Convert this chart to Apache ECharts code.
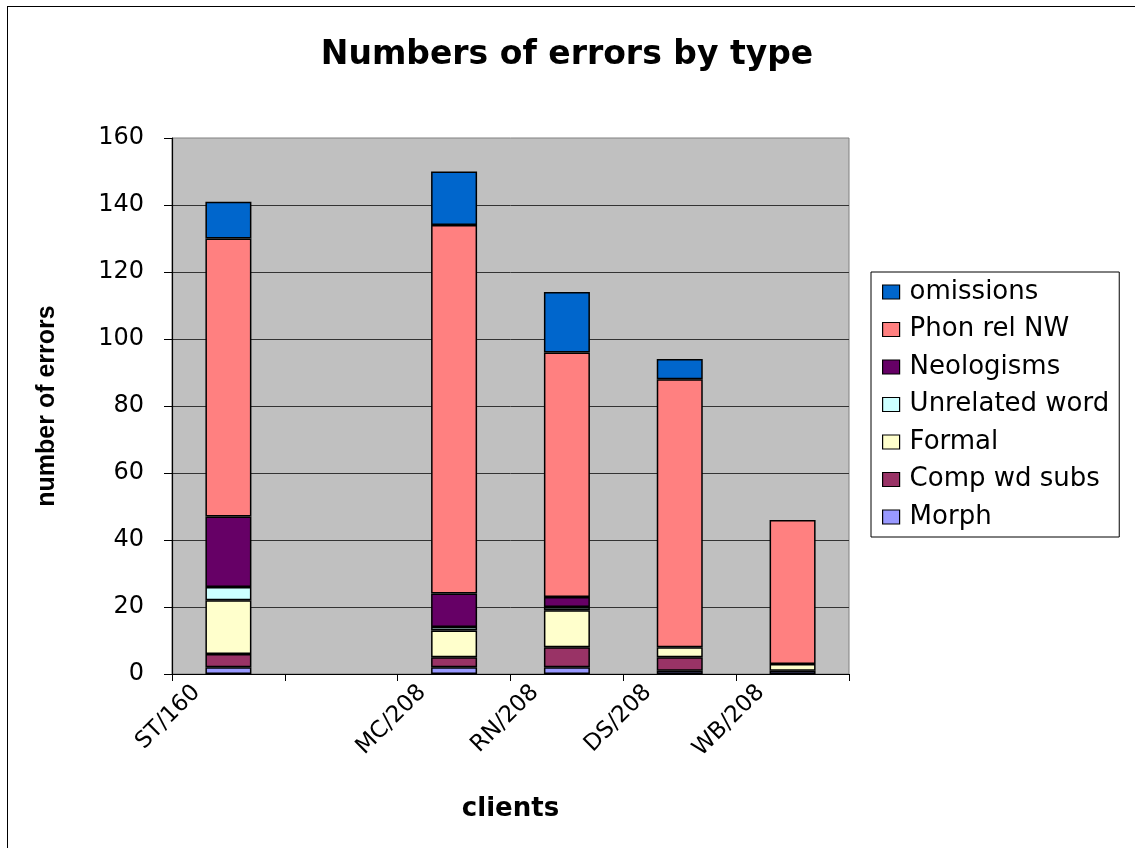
<!DOCTYPE html>
<html>
<head>
<meta charset="utf-8">
<script src="https://cdn.jsdelivr.net/npm/echarts@6/dist/echarts.min.js"></script>
<style>
  html, body { margin: 0; padding: 0; background: #fff; }
  #frame { position: absolute; left: 7px; top: 6px; width: 1128px; height: 842px; border-left: 1.5px solid #000; border-top: 1.5px solid #000; box-sizing: border-box; }
  #chart { position: absolute; left: 0; top: 0; width: 1135px; height: 848px; }
</style>
</head>
<body>
<div id="frame"></div>
<div id="chart"></div>
<script>
const categories = ['ST/160', '', 'MC/208', 'RN/208', 'DS/208', 'WB/208'];
const seriesNames = ['Morph', 'Comp wd subs', 'Formal', 'Unrelated word', 'Neologisms', 'Phon rel NW', 'omissions'];
const morph        = [2, null, 2, 2, 1, 1];
const compWdSubs   = [4, null, 3, 6, 4, 0];
const formal       = [16, null, 8, 11, 3, 2];
const unrelated    = [4, null, 1, 1, 0, 0];
const neologisms   = [21, null, 10, 3, 0, 0];
const phonRelNW    = [83, null, 110, 73, 80, 43];
const omissions    = [11, null, 16, 18, 6, 0];
const yTicks = [0, 20, 40, 60, 80, 100, 120, 140, 160];

const seriesData = [morph, compWdSubs, formal, unrelated, neologisms, phonRelNW, omissions];
const colors = ['#9999FF', '#993366', '#FFFFCC', '#CCFFFF', '#660066', '#FF8080', '#0066CC'];

const chart = echarts.init(document.getElementById('chart'));
const FONT = 'DejaVu Sans';

chart.setOption({
  animation: false,
  backgroundColor: 'transparent',
  title: {
    text: 'Numbers of errors by type',
    left: 562, top: 34, textAlign: 'center',
    textStyle: { fontFamily: FONT, fontSize: 33, fontWeight: 'bold', color: '#000' }
  },
  legend: {
    orient: 'vertical',
    left: 871, top: 272,
    padding: [6, 10, 6, 11],
    borderColor: '#000', borderWidth: 1,
    itemWidth: 17, itemHeight: 14, itemGap: 9.5,
    icon: 'rect',
    data: seriesNames.slice().reverse(),
    itemStyle: { borderColor: '#000', borderWidth: 1.2 },
    textStyle: { fontFamily: FONT, fontSize: 26, color: '#000', lineHeight: 28, padding: [0, 0, 0, 5] }
  },
  grid: {
    left: 172, right: 286, top: 138, bottom: 174,
    show: true, backgroundColor: '#C0C0C0', borderColor: '#808080', borderWidth: 1
  },
  xAxis: {
    type: 'category',
    data: categories,
    name: 'clients',
    nameLocation: 'middle',
    nameGap: 122,
    nameTextStyle: { fontFamily: FONT, fontSize: 26, fontWeight: 'bold', color: '#000' },
    axisLine: { lineStyle: { color: '#000', width: 1.2 } },
    axisTick: { show: true, length: 7, lineStyle: { color: '#000' } },
    axisLabel: {
      interval: 0, rotate: 45, margin: -17,
      padding: [0, 45, 0, 0],
      fontFamily: FONT, fontSize: 23, color: '#000'
    }
  },
  yAxis: {
    type: 'value',
    min: 0, max: 160, interval: 20,
    name: 'number of errors',
    nameLocation: 'middle',
    nameGap: 112,
    nameTextStyle: { fontFamily: 'Liberation Sans', fontSize: 25, fontWeight: 'bold', color: '#000' },
    axisLine: { show: true, lineStyle: { color: '#000', width: 1.2 } },
    axisTick: { show: true, length: 8, lineStyle: { color: '#000' } },
    axisLabel: {
      margin: 28, fontFamily: FONT, fontSize: 24, color: '#000',
      formatter: v => (yTicks.indexOf(v) >= 0 ? String(v) : '')
    },
    splitLine: { show: true, showMaxLine: false, lineStyle: { color: '#333', width: 1 } }
  },
  series: seriesNames.map((name, i) => ({
    name: name,
    type: 'bar',
    stack: 'total',
    barWidth: 46,
    data: seriesData[i].map(v => (v === 0 ? null : v)),
    itemStyle: { color: colors[i], borderColor: '#000', borderWidth: 1.5 }
  }))
});
</script>
</body>
</html>
